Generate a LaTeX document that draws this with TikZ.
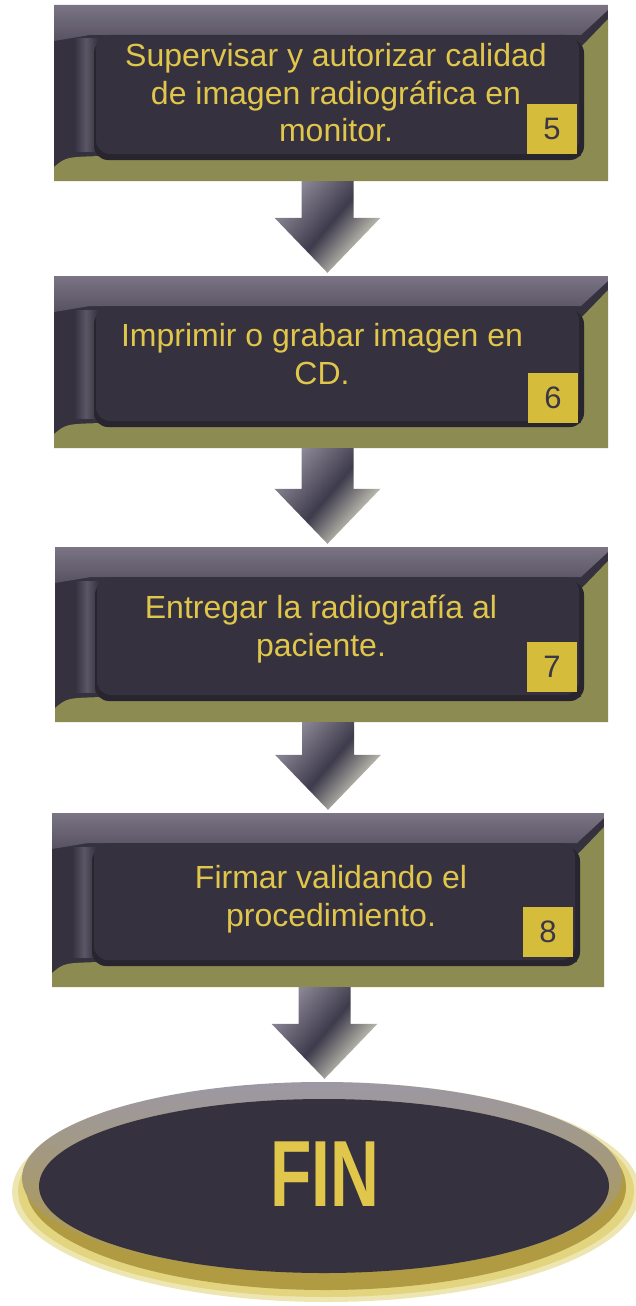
\documentclass[tikz,border=0pt]{standalone}
\usepackage{fontspec}
\setmainfont{Liberation Sans}
\usetikzlibrary{calc,shapes.geometric,positioning}
\definecolor{facedark}{HTML}{35313F}
\definecolor{bevelgray}{HTML}{7A7484}
\definecolor{bevelmid}{HTML}{575262}
\definecolor{olive}{HTML}{8B8B52}
\definecolor{goldtext}{HTML}{E0C64A}
\definecolor{goldbox}{HTML}{D5BC3B}
\definecolor{digit}{HTML}{3A3646}
\definecolor{rimgray}{HTML}{9C98A5}
\definecolor{rimgold}{HTML}{B09B42}
\definecolor{glow}{HTML}{E3D57F}
\definecolor{arrowtop}{HTML}{8E8998}
\definecolor{arrowmid}{HTML}{3E3B4C}
\definecolor{tipcream}{HTML}{EDEDD5}
\tikzset{panel/.style={rectangle, fill=facedark, inner sep=0pt, path picture={
  \path (path picture bounding box.north west) coordinate (pnw) (path picture bounding box.south east) coordinate (pse);
  \shade[top color=bevelgray, bottom color=bevelmid] let \p1=(pnw), \p2=(pse) in (\x1,\y1) -- (\x2,\y1) -- (\x2,\y1-5pt) -- (\x2-27pt,\y1-30pt) -- (\x1+36pt,\y1-30pt) -- (\x1,\y1-36pt) -- cycle;
  \shade[left color=facedark, right color=facedark, middle color=facedark!45!bevelgray] let \p1=(pnw), \p2=(pse) in (\x1+20pt,\y1-34pt) rectangle (\x1+44pt,\y2+30pt);
  \fill[olive] let \p1=(pnw), \p2=(pse) in (\x2,\y1-14pt) -- (\x2,\y2) -- (\x1,\y2) -- (\x1,\y2+14pt) .. controls (\x1+12pt,\y2+24pt) .. (\x1+48pt,\y2+25pt) -- (\x2-27pt,\y2+25pt) -- (\x2-27pt,\y1-42pt) -- cycle;
  \fill[facedark!75!black, rounded corners=14pt] let \p1=(pnw), \p2=(pse) in (\x1+40pt,\y1-34pt) rectangle (\x2-24pt,\y2+21pt);
  \fill[facedark, rounded corners=14pt] let \p1=(pnw), \p2=(pse) in (\x1+42pt,\y1-30pt) rectangle (\x2-29pt,\y2+27pt);
  }},
  steptext/.style={text=goldtext, align=center, font=\fontsize{32}{37.5}\selectfont},
  numbox/.style={fill=goldbox, minimum size=50, inner sep=0pt, text=digit, font=\fontsize{31}{31}\selectfont, anchor=south east},
  arrowshade/.style={top color=arrowtop, bottom color=tipcream, middle color=arrowmid, shading angle=50},
  finrim/.style={ellipse, inner sep=0pt, minimum width=600, minimum height=192, top color=rimgray, bottom color=rimgold},
  fintext/.style={text=goldtext, font=\fontsize{94}{94}\bfseries\selectfont, xscale=0.72}}
% block arrow from one node down to the next
\newcommand\flowarrow[3]{%
  \shade[arrowshade] let \p1=($(#1.south)+(#3,0)$), \p2=(#2.north) in (\x1-26pt,\y1) -- (\x1+26pt,\y1) -- (\x1+26pt,\y2+58pt) -- (\x1+53pt,\y2+58pt) -- (\x1,\y2+3pt) -- (\x1-53pt,\y2+58pt) -- (\x1-26pt,\y2+58pt) -- cycle;}

\begin{document}
\begin{tikzpicture}[x=1pt,y=-1pt]
\useasboundingbox (0,0) rectangle (635,1306);
% steps
\node[panel, minimum width=554, minimum height=176] (b1) at (331,93) {};
\node[panel, minimum width=554, minimum height=172] (b2) at (331,362) {};
\node[panel, minimum width=553, minimum height=175] (b3) at (331.5,634.5) {};
\node[panel, minimum width=552, minimum height=174] (b4) at (328,900) {};
\node[steptext] (t1) at (336,93) {Supervisar y autorizar calidad\\de imagen radiográfica en\\monitor.};
\node[steptext] (t2) at (322,354) {Imprimir o grabar imagen en\\CD.};
\node[steptext] (t3) at (321,629) {Entregar la radiografía al\\paciente.};
\node[steptext] (t4) at (331,899) {Firmar validando el\\procedimiento.};
\node[numbox] (n5) at ($(b1.south east)+(-31,-27)$) {5};
\node[numbox] (n6) at ($(b2.south east)+(-30,-25)$) {6};
\node[numbox] (n7) at ($(b3.south east)+(-31,-30)$) {7};
\node[numbox] (n8) at ($(b4.south east)+(-31,-30)$) {8};
% end
\coordinate (fc) at (322,1178);
\fill[glow!60!white] (fc) ++(4,14) ellipse [x radius=314, y radius=110];
\fill[glow] (fc) ++(4,13) ellipse [x radius=308, y radius=106];
\fill[rimgold] (fc) ++(4,9) ellipse [x radius=300, y radius=103];
\node[finrim] (fin) at (fc) {};
\fill[facedark] ($(fin.center)+(2,8)$) ellipse [x radius=285, y radius=87];
\node[fintext] (fintxt) at ($(fin.center)+(3,-4)$) {FIN};
% arrows
\flowarrow{b1}{b2}{-3.5}
\flowarrow{b2}{b3}{-3.5}
\flowarrow{b3}{b4}{-3.5}
\flowarrow{b4}{fin}{-3.5}
\end{tikzpicture}
\end{document}
